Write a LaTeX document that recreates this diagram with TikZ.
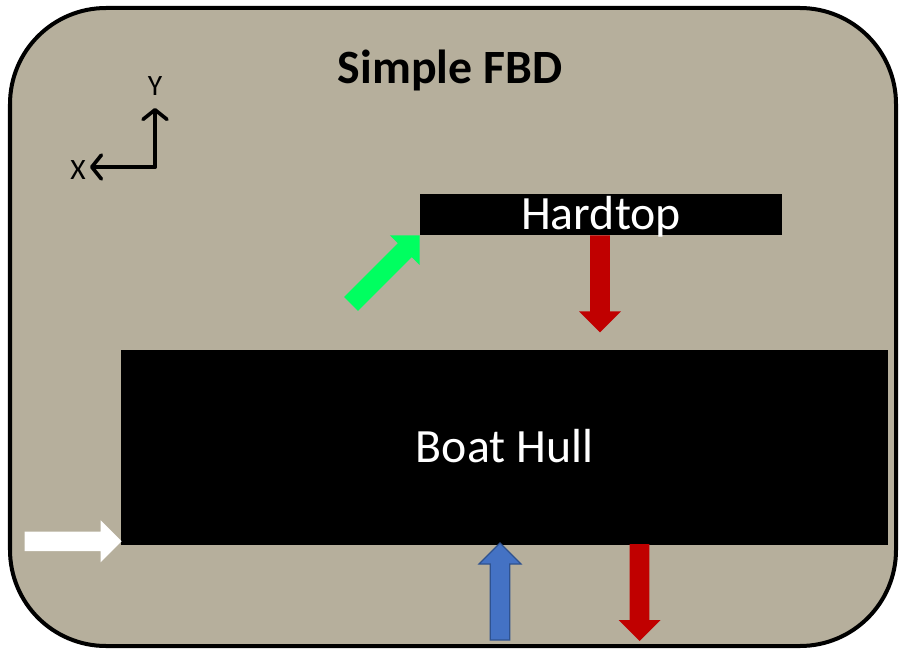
\documentclass[tikz,border=0pt]{standalone}
\usepackage{fontspec}
\setmainfont{Carlito}
\usetikzlibrary{arrows.meta, calc, positioning}

\definecolor{deck}{RGB}{182,175,156}
\definecolor{weightred}{RGB}{192,0,0}
\definecolor{liftgreen}{RGB}{0,255,96}
\definecolor{buoyblue}{RGB}{68,114,196}
\definecolor{buoyedge}{RGB}{47,82,143}

% block force arrow: #1 style, #2 tip point, #3 direction angle
\newcommand{\forcearrow}[3]{%
  \begin{scope}[shift={#2}, rotate=#3]
    \path[#1] (0,0) -- (-21,21) -- (-21,9.8) -- (-97,9.8) -- (-97,-9.8) -- (-21,-9.8) -- (-21,-21) -- cycle;
  \end{scope}}

\begin{document}
\begin{tikzpicture}[x=0.025cm, y=-0.025cm,
    body/.style={fill=black, text=white, inner sep=0pt, font=\fontsize{34}{34}\selectfont, text height=21.8pt, text depth=0pt},
    axis/.style={line width=0.09cm, -{Straight Barb[length=2.4mm, width=6mm, round]}, line cap=round, line join=round},
    axlabel/.style={inner sep=0pt, font=\fontsize{21}{21}\selectfont, text height=13.4pt, text depth=0pt}]
    \useasboundingbox (0,0) rectangle (901,650);
    % panel
    \draw[line width=0.1cm, fill=deck, rounded corners=2.4cm] (10,8) rectangle (896,646);
    \node[font=\bfseries\fontsize{34}{34}\selectfont, text height=21.8pt, text depth=0pt, inner sep=0pt] (title) at (450,68) {Simple FBD};

    % axes
    \coordinate (origin) at (155,167);
    \coordinate (yend) at (155,108);
    \coordinate (xend) at (90,167);
    \draw[axis] (origin) -- (yend);
    \draw[axis] (origin) -- (xend);
    \node[axlabel] (ylab) at (155,86) {Y};
    \node[axlabel] (xlab) at (78,170) {X};

    % bodies
    \node[body, minimum width=9.05cm, minimum height=1.025cm] (hardtop) at (601,214.5) {Hardtop};
    \node[body, minimum width=19.175cm, minimum height=4.875cm] (hull) at (504.5,447.5) {Boat Hull};

    % forces
    \forcearrow{fill=liftgreen}{(hardtop.south west)}{45}
    \forcearrow{fill=weightred}{($(hardtop.south)+(-1,97)$)}{-90}
    \forcearrow{fill=white}{($(hull.south west)+(1,-4)$)}{0}
    \forcearrow{fill=buoyblue, draw=buoyedge, line width=0.8pt}{(500,543)}{90}
    \forcearrow{fill=weightred}{(639.5,641)}{-90}
\end{tikzpicture}
\end{document}
